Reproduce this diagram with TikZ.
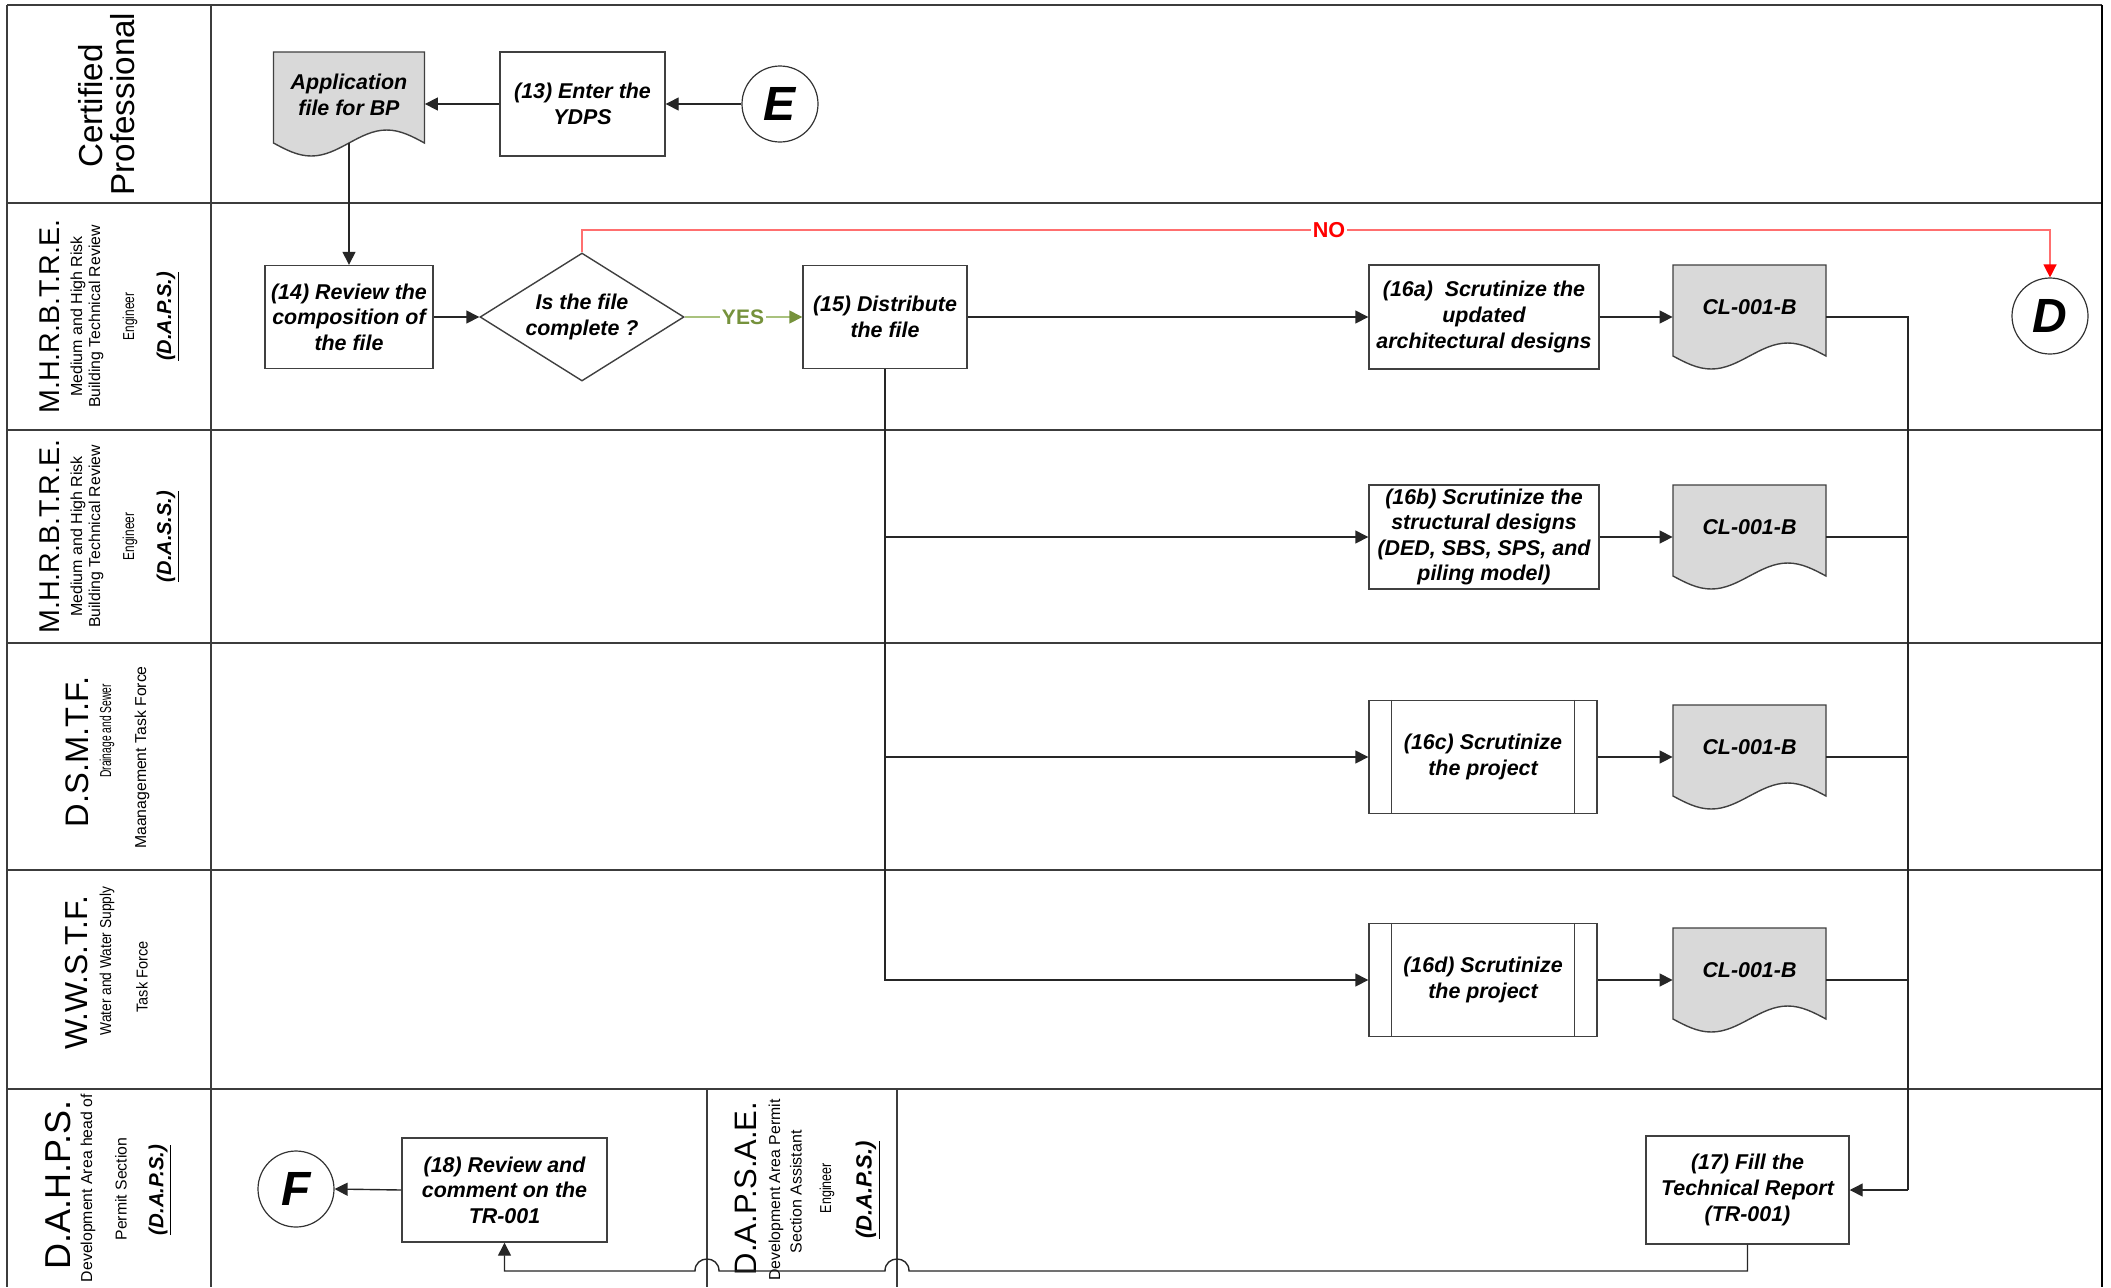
\documentclass[tikz,border=0pt]{standalone}
\usepackage{fontspec}
\usepackage{graphicx}
\setmainfont{Liberation Sans}
\usetikzlibrary{arrows.meta,shapes.geometric,calc}
\definecolor{framec}{HTML}{3C3C3C}
\definecolor{bordc}{HTML}{404040}
\definecolor{docfillc}{HTML}{D9D9D9}
\definecolor{yeslinec}{HTML}{A9C27E}
\definecolor{yesdarkc}{HTML}{76923C}
\definecolor{nolinec}{HTML}{FF6F6F}
\definecolor{nodarkc}{HTML}{FF0000}
\newcommand\bxfont{\fontsize{10.7pt}{12.8pt}\selectfont\bfseries\itshape}
\newcommand\biF[1]{\fontsize{#1}{#1}\selectfont\bfseries\itshape}
\newcommand\rgF[1]{\fontsize{#1}{#1}\selectfont}
\newcommand\docshape[3]{% cx, top, width
  \filldraw[docline] ({#1-#3/2},#2) -- ({#1+#3/2},#2) -- ({#1+#3/2},#2+91)
    sin ({#1+#3/4},#2+78) cos (#1,#2+91) sin ({#1-#3/4},#2+104) cos ({#1-#3/2},#2+91) -- cycle;}
\tikzset{
  laneline/.style={draw=framec, line width=1pt},
  procbox/.style={draw=bordc, line width=0.7pt, fill=white, align=center, font=\bxfont, inner sep=0pt},
  docnode/.style={draw=none, align=center, font=\bxfont, inner sep=0pt, minimum height=45.5pt},
  docline/.style={draw=bordc, line width=0.7pt, fill=docfillc},
  conn/.style={draw=black!85, line width=0.7pt},
  arrowend/.style={-{Triangle[length=6.5pt,width=6.5pt]}},
  conncircle/.style={circle, draw=black!80, line width=0.6pt, fill=white, minimum size=38pt, inner sep=0pt, font=\biF{24pt}},
  lbl/.style={rotate=90, inner sep=0pt, align=center},
}
\begin{document}
\begin{tikzpicture}[x=0.5pt,y=-0.5pt]
\useasboundingbox (0,0) rectangle (2111,1287);
\fill[white] (0,0) rectangle (2111,1287);
% frame and lanes
\draw[laneline] (7,5) -- (2102,5);
\foreach \yy in {203,430,643,870} \draw[laneline] (7,\yy) -- (2102,\yy);
\draw[laneline, line width=0.8pt] (7,1089) -- (2102,1089);
\draw[laneline] (7,5) -- (7,1287);
\draw[laneline] (211,5) -- (211,1287);
\draw[laneline, draw=black, line width=1.3pt] (2102,5) -- (2102,1287);
\draw[laneline, line width=0.7pt] (707,1089) -- (707,1287);
\draw[laneline, line width=0.7pt] (897,1089) -- (897,1287);

% lane labels
\node[lbl, font=\rgF{16.6pt}] (cpa) at (91,106) {Certified};
\node[lbl, font=\rgF{16.6pt}] (cpb) at (123,104) {Professional};

\node[lbl, font=\rgF{14.3pt}] (ma1) at (50,316.5) {M.H.R.B.T.R.E.};
\node[lbl, font=\rgF{8pt}] (ma2) at (78,316.5) {Medium and High Risk};
\node[lbl, font=\rgF{7.9pt}] (ma3) at (96,316.5) {Building Technical Review};
\node[lbl, font=\rgF{7.9pt}] (ma4) at (130,316.5) {\scalebox{0.75}[1]{Engineer}};
\node[lbl, font=\biF{10pt}] (ma5) at (168,316.5) {\underline{(D.A.P.S.)}};

\node[lbl, font=\rgF{14.3pt}] (mb1) at (50,536.5) {M.H.R.B.T.R.E.};
\node[lbl, font=\rgF{8pt}] (mb2) at (78,536.5) {Medium and High Risk};
\node[lbl, font=\rgF{7.9pt}] (mb3) at (96,536.5) {Building Technical Review};
\node[lbl, font=\rgF{7.9pt}] (mb4) at (130,536.5) {\scalebox{0.75}[1]{Engineer}};
\node[lbl, font=\biF{10pt}] (mb5) at (168,536.5) {\underline{(D.A.S.S.)}};

\node[lbl, font=\rgF{16.3pt}] (ds1) at (77,752) {D.S.M.T.F.};
\node[lbl, font=\rgF{7.9pt}] (ds2) at (107,731) {\scalebox{0.65}[1]{Drainage and Sewer}};
\node[lbl, font=\rgF{7.9pt}] (ds3) at (142,757.5) {Maanagement Task Force};

\node[lbl, font=\rgF{15.9pt}] (ww1) at (77,973) {W.W.S.T.F.};
\node[lbl, font=\rgF{7.9pt}] (ww2) at (107,961) {\scalebox{0.87}[1]{Water and Water Supply}};
\node[lbl, font=\rgF{7.9pt}] (ww3) at (142,977) {\scalebox{0.92}[1]{Task Force}};

\node[lbl, font=\rgF{18pt}] (dh1) at (58,1185) {D.A.H.P.S.};
\node[lbl, font=\rgF{7.9pt}] (dh2) at (88,1188) {Development Area head of};
\node[lbl, font=\rgF{7.9pt}] (dh3) at (121,1189) {Permit Section};
\node[lbl, font=\biF{10.2pt}] (dh4) at (160,1190) {\underline{(D.A.P.S.)}};

\node[lbl, font=\rgF{15.5pt}] (dp1) at (746,1188.5) {D.A.P.S.A.E.};
\node[lbl, font=\rgF{7.9pt}] (dp2) at (776,1190) {Development Area Permit};
\node[lbl, font=\rgF{8pt}] (dp3) at (796,1191.7) {Section Assistant};
\node[lbl, font=\rgF{7.9pt}] (dp4) at (827,1188) {\scalebox{0.79}[1]{Engineer}};
\node[lbl, font=\biF{11pt}] (dp5) at (868,1190) {\underline{(D.A.P.S.)}};

% document shapes
\docshape{349}{52}{151}
\docshape{1749.5}{265}{153}
\docshape{1749.5}{485}{153}
\docshape{1749.5}{705}{153}
\docshape{1749.5}{928}{153}
\node[docnode, minimum width=75.5pt] (app) at (349,97.5) {\raisebox{3.75pt}{\begin{tabular}{@{}c@{}}Application\\file for BP\end{tabular}}};
\node[docnode, minimum width=76.5pt] (cla) at (1749.5,310.5) {\raisebox{3.75pt}{CL-001-B}};
\node[docnode, minimum width=76.5pt] (clb) at (1749.5,530.5) {\raisebox{3.75pt}{CL-001-B}};
\node[docnode, minimum width=76.5pt] (clc) at (1749.5,750.5) {\raisebox{3.75pt}{CL-001-B}};
\node[docnode, minimum width=76.5pt] (cld) at (1749.5,973.5) {\raisebox{3.75pt}{CL-001-B}};

% process boxes
\node[procbox, minimum width=82.5pt, minimum height=52pt] (b13) at (582.5,104) {(13) Enter the\\YDPS};
\node[procbox, minimum width=84pt, minimum height=51.5pt] (b14) at (349,317) {(14) Review the\\composition of\\the file};
\node[diamond, draw=bordc, line width=0.7pt, fill=white, aspect=1.6, minimum width=102pt, minimum height=64pt, inner sep=0pt, align=center, font=\bxfont] (dia) at (582,317) {Is the file\\complete ?};
\node[procbox, minimum width=82pt, minimum height=51.5pt] (b15) at (885,317) {(15) Distribute\\the file};
\node[procbox, minimum width=115pt, minimum height=52pt] (b16a) at (1484,317) {(16a)\ \ Scrutinize the\\updated\\architectural designs};
\node[procbox, minimum width=115pt, minimum height=52pt] (b16b) at (1484,537) {(16b) Scrutinize the\\structural designs\\(DED, SBS, SPS, and\\piling model)};
\node[procbox, minimum width=114pt, minimum height=56.5pt] (b16c) at (1483,757) {(16c) Scrutinize\\the project};
\node[procbox, minimum width=114pt, minimum height=56.5pt] (b16d) at (1483,980) {(16d) Scrutinize\\the project};
\foreach \bb in {b16c,b16d} {
  \draw[draw=bordc, line width=0.7pt] ([xshift=11.5pt]\bb.north west) -- ([xshift=11.5pt]\bb.south west);
  \draw[draw=bordc, line width=0.7pt] ([xshift=-11.5pt]\bb.north east) -- ([xshift=-11.5pt]\bb.south east);
}
\node[procbox, minimum width=101.5pt, minimum height=54pt] (b17) at (1747.5,1190) {(17) Fill the\\Technical Report\\(TR-001)};
\node[procbox, minimum width=102.5pt, minimum height=52pt] (b18) at (504.5,1190) {(18) Review and\\comment on the\\TR-001};

% connector circles
\node[conncircle] (E) at (780,104) {E};
\node[conncircle] (D) at (2050,316) {D};
\node[conncircle] (F) at (296,1189) {F};

% coordinates
\coordinate (noy) at (0,230);
\coordinate (bus) at (1908,1190);
\coordinate (lowline) at (0,1271);
\coordinate (hopA) at (897,1271);
\coordinate (hopB) at (707,1271);

% connectors
\draw[conn,arrowend] (E.west) -- (b13.east);
\draw[conn,arrowend] (b13.west) -- (b13.west -| app.east);
\draw[conn,arrowend] (app.south) -- (b14.north);
\draw[conn,arrowend] (b14.east) -- (dia.west);
\draw[draw=yeslinec, line width=0.7pt, -{Triangle[length=6.5pt,width=6.5pt,color=yesdarkc]}] (dia.east) -- (b15.west);
\node[fill=white, inner sep=1pt, text=yesdarkc, font=\fontsize{10.5pt}{12pt}\selectfont\bfseries] (yes) at (743,317) {YES};
\draw[draw=nolinec, line width=0.7pt, -{Triangle[length=6.5pt,width=6.5pt,color=nodarkc]}] (dia.north) -- (dia.north |- noy) -- (D.north |- noy) -- (D.north);
\node[fill=white, inner sep=1pt, text=nodarkc, font=\fontsize{10.8pt}{12pt}\selectfont\bfseries] (no) at (1329,230) {NO};

\draw[conn,arrowend] (b15.east) -- (b16a.west);
\draw[conn,arrowend] (b15.south) |- (b16d.west);
\draw[conn,arrowend] (b15.south |- b16b.west) -- (b16b.west);
\draw[conn,arrowend] (b15.south |- b16c.west) -- (b16c.west);

\draw[conn,arrowend] (b16a.east) -- (b16a.east -| cla.west);
\draw[conn,arrowend] (b16b.east) -- (b16b.east -| clb.west);
\draw[conn,arrowend] (b16c.east) -- (b16c.east -| clc.west);
\draw[conn,arrowend] (b16d.east) -- (b16d.east -| cld.west);

\draw[conn] (b16a.east -| cla.east) -| (bus);
\draw[conn] (b16b.east -| clb.east) -| (bus);
\draw[conn] (b16c.east -| clc.east) -| (bus);
\draw[conn] (b16d.east -| cld.east) -| (bus);
\draw[conn,arrowend] (bus) -- (b17.east);

\draw[conn,arrowend] (b17.south) -- (b17.south |- lowline) -- ([xshift=6pt]hopA)
  .. controls ([xshift=6pt,yshift=8pt]hopA) and ([xshift=-6pt,yshift=8pt]hopA) .. ([xshift=-6pt]hopA)
  -- ([xshift=6pt]hopB)
  .. controls ([xshift=6pt,yshift=8pt]hopB) and ([xshift=-6pt,yshift=8pt]hopB) .. ([xshift=-6pt]hopB)
  -- (b18.south |- lowline) -- (b18.south);
\draw[conn,arrowend] (b18.west) -- (F.east);
\end{tikzpicture}
\end{document}
